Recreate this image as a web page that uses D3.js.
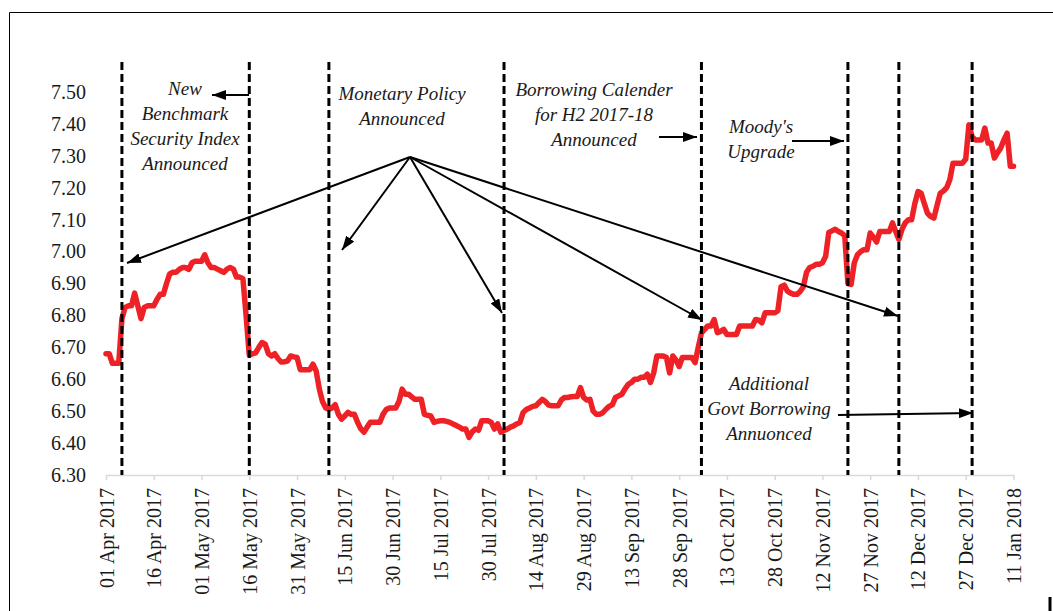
<!DOCTYPE html>
<html>
<head>
<meta charset="utf-8">
<script src="https://cdn.jsdelivr.net/npm/d3@7"></script>
<style>
  body { margin: 0; background: #fff; }
  svg { display: block; }
</style>
</head>
<body>
<div id="chart"></div>
<script>
// 10-year G-sec yield, one value per calendar day from 01 Apr 2017
const startDay = "01 Apr 2017";
const yields = [
  // Apr
  6.68, 6.68, 6.65, 6.65, 6.65, 6.79, 6.825, 6.83, 6.83, 6.87,
  6.83, 6.79, 6.825, 6.83, 6.83, 6.83, 6.85, 6.866, 6.866, 6.90,
  6.93, 6.935, 6.935, 6.944, 6.95, 6.95, 6.944, 6.965, 6.97, 6.97,
  // May
  6.97, 6.99, 6.965, 6.95, 6.95, 6.945, 6.94, 6.935, 6.945, 6.95,
  6.945, 6.92, 6.92, 6.915, 6.80, 6.675, 6.68, 6.683, 6.70, 6.715,
  6.71, 6.68, 6.673, 6.68, 6.665, 6.654, 6.655, 6.657, 6.673, 6.67, 6.668,
  // Jun
  6.63, 6.63, 6.63, 6.63, 6.647, 6.626, 6.569, 6.53, 6.51, 6.506,
  6.51, 6.52, 6.49, 6.475, 6.485, 6.496, 6.49, 6.49, 6.465, 6.445,
  6.434, 6.45, 6.465, 6.465, 6.465, 6.465, 6.49, 6.505, 6.51, 6.51,
  // Jul
  6.51, 6.53, 6.569, 6.553, 6.553, 6.545, 6.537, 6.537, 6.537, 6.49,
  6.487, 6.485, 6.465, 6.468, 6.47, 6.47, 6.468, 6.465, 6.46, 6.455,
  6.45, 6.444, 6.444, 6.418, 6.435, 6.444, 6.44, 6.47, 6.47, 6.47, 6.465,
  // Aug
  6.444, 6.46, 6.434, 6.439, 6.444, 6.45, 6.454, 6.46, 6.465, 6.496,
  6.505, 6.51, 6.515, 6.517, 6.527, 6.537, 6.53, 6.519, 6.517, 6.517,
  6.517, 6.535, 6.543, 6.543, 6.545, 6.546, 6.546, 6.574, 6.543, 6.535, 6.537,
  // Sep
  6.50, 6.49, 6.49, 6.495, 6.506, 6.515, 6.52, 6.543, 6.548, 6.553,
  6.57, 6.584, 6.59, 6.60, 6.60, 6.606, 6.606, 6.616, 6.59, 6.62,
  6.673, 6.673, 6.673, 6.668, 6.62, 6.673, 6.66, 6.64, 6.668, 6.668,
  // Oct
  6.668, 6.668, 6.652, 6.70, 6.745, 6.756, 6.767, 6.767, 6.787, 6.746,
  6.75, 6.756, 6.74, 6.74, 6.74, 6.74, 6.767, 6.767, 6.767, 6.767,
  6.767, 6.787, 6.785, 6.777, 6.808, 6.808, 6.808, 6.808, 6.815, 6.89, 6.895,
  // Nov
  6.876, 6.87, 6.866, 6.866, 6.875, 6.89, 6.935, 6.95, 6.954, 6.96,
  6.96, 6.965, 6.985, 7.06, 7.065, 7.07, 7.063, 7.058, 7.05, 6.90,
  6.897, 6.965, 6.99, 7.00, 7.006, 7.006, 7.058, 7.045, 7.03, 7.063,
  // Dec
  7.063, 7.063, 7.063, 7.09, 7.063, 7.038, 7.07, 7.09, 7.10, 7.10,
  7.15, 7.188, 7.183, 7.15, 7.12, 7.11, 7.105, 7.145, 7.183, 7.19,
  7.20, 7.225, 7.277, 7.277, 7.277, 7.277, 7.29, 7.397, 7.36, 7.35, 7.35,
  // Jan
  7.35, 7.387, 7.34, 7.34, 7.293, 7.31, 7.325, 7.35, 7.371, 7.267, 7.267
];

const tickLabels = [
  "01 Apr 2017", "16 Apr 2017", "01 May 2017", "16 May 2017", "31 May 2017",
  "15 Jun 2017", "30 Jun 2017", "15 Jul 2017", "30 Jul 2017", "14 Aug 2017",
  "29 Aug 2017", "13 Sep 2017", "28 Sep 2017", "13 Oct 2017", "28 Oct 2017",
  "12 Nov 2017", "27 Nov 2017", "12 Dec 2017", "27 Dec 2017", "11 Jan 2018"
];
const yTicks = [6.3, 6.4, 6.5, 6.6, 6.7, 6.8, 6.9, 7.0, 7.1, 7.2, 7.3, 7.4, 7.5];

// event days (dashed verticals)
const eventDays = [
  "06 Apr 2017", "16 May 2017", "10 Jun 2017", "04 Aug 2017",
  "05 Oct 2017", "20 Nov 2017", "06 Dec 2017", "29 Dec 2017"
];

const width = 1053, height = 611;
const parse = d3.timeParse("%d %b %Y");
const fmt = d3.timeFormat("%d %b %Y");

const start = parse(startDay);
const series = yields.map((v, i) => ({ date: d3.timeDay.offset(start, i), value: v }));

const svg = d3.select("#chart").append("svg")
  .attr("width", width)
  .attr("height", height);

svg.append("rect").attr("width", width).attr("height", height).attr("fill", "#fff");

// outer frame
svg.append("path")
  .attr("d", "M9.5,611 V12.5 H1053")
  .attr("fill", "none").attr("stroke", "#000").attr("stroke-width", 1);
svg.append("line")
  .attr("x1", 1050).attr("x2", 1050).attr("y1", 597).attr("y2", 611)
  .attr("stroke", "#000").attr("stroke-width", 3);

const x = d3.scaleTime()
  .domain([parse(tickLabels[0]), parse(tickLabels[tickLabels.length - 1])])
  .range([106, 1013.5]);
const y = d3.scaleLinear().domain([6.3, 7.5]).range([475, 92]);

// y axis (labels only)
const yAxis = svg.append("g")
  .attr("transform", "translate(86,0)")
  .call(d3.axisLeft(y).tickValues(yTicks).tickSize(0).tickPadding(0).tickFormat(d3.format(".2f")));
yAxis.select(".domain").remove();
yAxis.selectAll("text")
  .attr("font-family", "Liberation Serif, Times New Roman, serif")
  .attr("font-size", 20)
  .attr("fill", "#1a1a1a");

// x axis
const xAxis = svg.append("g")
  .attr("transform", "translate(0,475)")
  .call(d3.axisBottom(x).tickValues(tickLabels.map(parse)).tickSize(5).tickSizeOuter(0).tickFormat(fmt));
xAxis.select(".domain").attr("stroke", "#d9d9d9").attr("stroke-width", 1.5);
xAxis.selectAll(".tick line").attr("stroke", "#d9d9d9").attr("stroke-width", 1.5);
xAxis.selectAll("text")
  .attr("transform", "rotate(-90)")
  .attr("x", -13)
  .attr("y", 0)
  .attr("dy", "0.35em")
  .attr("text-anchor", "end")
  .attr("font-family", "Liberation Serif, Times New Roman, serif")
  .attr("font-size", 20)
  .attr("fill", "#1a1a1a");

// yield line
const line = d3.line()
  .x(d => x(d.date))
  .y(d => y(d.value));

svg.append("path")
  .datum(series)
  .attr("fill", "none")
  .attr("stroke", "#ee2226")
  .attr("stroke-width", 5.5)
  .attr("stroke-linejoin", "round")
  .attr("stroke-linecap", "round")
  .attr("d", line);

// dashed event lines
svg.selectAll(".event")
  .data(eventDays)
  .enter().append("line")
  .attr("class", "event")
  .attr("x1", d => x(parse(d)))
  .attr("x2", d => x(parse(d)))
  .attr("y1", 62)
  .attr("y2", 475)
  .attr("stroke", "#000")
  .attr("stroke-width", 3)
  .attr("stroke-dasharray", "8,4");

// arrow head
svg.append("defs").append("marker")
  .attr("id", "head")
  .attr("viewBox", "0 0 14 10")
  .attr("refX", 14).attr("refY", 5)
  .attr("markerWidth", 14).attr("markerHeight", 10)
  .attr("markerUnits", "userSpaceOnUse")
  .attr("orient", "auto")
  .append("path").attr("d", "M0,0 L14,5 L0,10 Z").attr("fill", "#000");

function arrow(x1, y1, x2, y2) {
  svg.append("line")
    .attr("x1", x1).attr("y1", y1).attr("x2", x2).attr("y2", y2)
    .attr("stroke", "#000").attr("stroke-width", 2)
    .attr("marker-end", "url(#head)");
}

// monetary policy fan
const hub = [410, 157];
[[127, 263], [342, 250], [502, 313], [702, 320], [898, 316]]
  .forEach(p => arrow(hub[0], hub[1], p[0], p[1]));

arrow(249, 95, 212, 95);
arrow(659, 137, 697, 137);
arrow(792, 141, 844, 141);
arrow(838, 415, 973, 413);

// annotation text
function note(cx, y0, lines) {
  const t = svg.append("text")
    .attr("text-anchor", "middle")
    .attr("font-family", "Liberation Serif, Times New Roman, serif")
    .attr("font-style", "italic")
    .attr("font-size", 19)
    .attr("fill", "#1a1a1a");
  lines.forEach((s, i) => {
    t.append("tspan").attr("x", cx).attr("y", y0 + i * 25).text(s);
  });
}

note(185, 95, ["New", "Benchmark", "Security Index", "Announced"]);
note(402, 100, ["Monetary Policy", "Announced"]);
note(594, 96, ["Borrowing Calender", "for H2 2017-18", "Announced"]);
note(761, 133, ["Moody's", "Upgrade"]);
note(769, 390, ["Additional", "Govt Borrowing", "Annuonced"]);
</script>
</body>
</html>
